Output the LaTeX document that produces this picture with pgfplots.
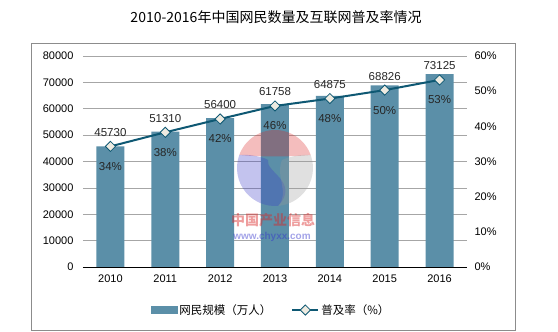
\documentclass[border=0pt]{standalone}
\usepackage{fontspec}
\setmainfont{Liberation Sans}
\newfontfamily\cjk{Noto Sans CJK SC}
\usepackage{pgfplots}
\usepackage{pgfplotstable}
\pgfplotsset{compat=1.18}
\definecolor{barc}{HTML}{5B8FA8}
\definecolor{linec}{HTML}{0E5873}
\definecolor{mkf}{HTML}{EEEBE1}
\definecolor{gridc}{HTML}{A6A6A6}
\pgfplotsset{linelegend/.style={legend image code/.code={\draw[mark repeat=2,mark phase=2,##1] plot coordinates {(0pt,0pt) (13pt,0pt) (26pt,0pt)};}}}
\pgfplotstableread{
x u p
0 45730 34.3
1 51310 38.3
2 56400 42.1
3 61758 45.8
4 64875 47.9
5 68826 50.3
6 73125 53.2
}\data
\pgfkeys{/pgf/number format/1000 sep={}, /pgf/number format/assume math mode=true}
\begin{document}
\begin{tikzpicture}[x=1pt,y=1pt]
\useasboundingbox (0,0) rectangle (558,332);
\draw[color=gray!90, line width=0.8pt] (31,2) rectangle (515,289);
\node[font=\cjk\fontsize{14}{16}\selectfont] at (276,315) {2010-2016年中国网民数量及互联网普及率情况};
\begin{axis}[at={(83pt,65pt)}, anchor=south west, scale only axis,
  width=384pt, height=211pt,
  xmin=-0.5, xmax=6.5, ymin=0, ymax=80000,
  ytick={0,10000,...,80000},
  xtick={0,...,6}, xticklabels={2010,2011,2012,2013,2014,2015,2016},
  axis x line*=bottom, axis y line*=left,
  y axis line style={draw=none},
  x axis line style={draw=black, line width=0.8pt, -},
  major tick length=0pt,
  ymajorgrids, grid style={gridc, line width=0.6pt},
  ticklabel style={font=\fontsize{11}{12}\selectfont},
  yticklabel style={xshift=-6pt},
  xticklabel style={yshift=-4pt},
  scaled y ticks=false,
  clip=false]
\addplot[ybar, bar width=28pt, fill=barc, draw=none, bar shift=0pt] table[x=x,y=u]{\data};
\end{axis}
\begin{axis}[at={(83pt,65pt)}, anchor=south west, scale only axis,
  width=384pt, height=211pt,
  xmin=-0.5, xmax=6.5, ymin=0, ymax=60,
  ytick={0,10,...,60},
  yticklabel={\pgfmathprintnumber{\tick}\%},
  axis x line=none, axis y line*=right,
  y axis line style={draw=none},
  major tick length=0pt,
  ticklabel style={font=\fontsize{11}{12}\selectfont},
  yticklabel style={xshift=4pt},
  clip=false,
  legend style={at={(0.49,-0.204)}, anchor=center, draw=none, fill=none,
    font=\cjk\fontsize{11.5}{13}\selectfont, legend columns=2,
    /tikz/every even column/.append style={column sep=18pt}},
  ]
\addlegendimage{legend image code/.code={\fill[barc] (0pt,-3.5pt) rectangle (26pt,3.5pt);}}
\addlegendentry{网民规模（万人）}
\addplot[linec, line width=2pt, mark=square*, mark size=3.6pt,
  mark options={fill=mkf, draw=linec, line width=0.8pt, rotate=45},
  nodes near coords={\pgfmathprintnumber[fixed,precision=0]{\pgfplotspointmeta}\%},
  point meta=y,
  nodes near coords style={anchor=center, yshift=-20pt, text=black!85, font=\fontsize{11.5}{13}\selectfont},
  linelegend
  ] table[x=x,y=p]{\data};
\addlegendentry{普及率（\%）}
\addplot[draw=none, mark=none, forget plot, point meta=explicit,
  nodes near coords,
  nodes near coords style={anchor=center, yshift=14pt, text=black!85, font=\fontsize{11.5}{13}\selectfont}
  ] table[x=x,y=p,meta=u]{\data};
\end{axis}
% watermark
\begin{scope}[opacity=0.3]
\fill[red!70!gray] (275,164) ++(160:38) arc (160:20:38) .. controls (290,175) and (260,175) .. cycle;
\fill[blue!55!gray] (275,164) ++(160:38) arc (160:275:38) .. controls (300,150) and (265,160) .. (268,172) .. controls (262,176) and (245,178) .. cycle;
\fill[gray!80] (275,164) ++(20:38) arc (20:-85:38) .. controls (290,140) and (275,155) .. (282,172) .. controls (290,176) and (305,178) .. cycle;
\end{scope}
\node[font=\cjk\bfseries\fontsize{14}{15}\selectfont, text=red!70!gray, opacity=0.45] at (273,112) {中国产业信息};
\node[font=\bfseries\fontsize{10}{11}\selectfont, text=blue!60!gray, opacity=0.45] at (272,95) {www.chyxx.com};
\end{tikzpicture}
\end{document}
